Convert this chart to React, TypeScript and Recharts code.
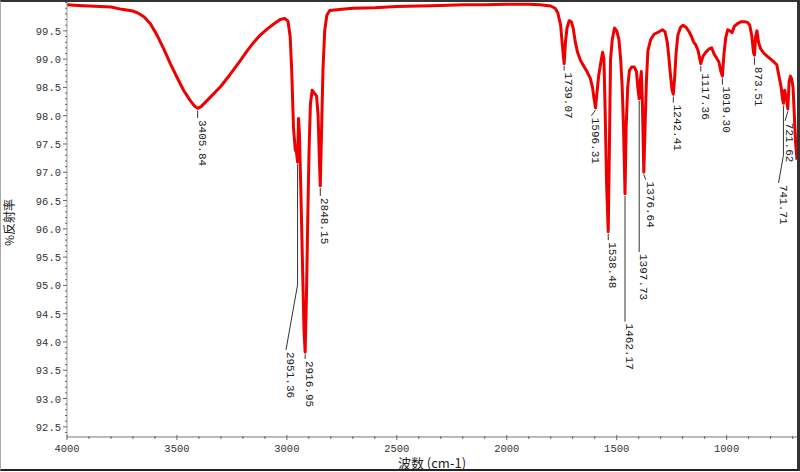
import React from 'react';
import { LineChart, Line, XAxis, YAxis, ReferenceLine, ReferenceDot } from 'recharts';

// wavenumber (cm-1), descending
const waveNumbers = [
  4000, 3950, 3900, 3850, 3800, 3750, 3700, 3680, 3650, 3620, 3590, 3560, 3530, 3500, 3470, 3440, 3420,
  3405.84, 3390, 3370, 3340, 3300, 3260, 3220, 3180, 3150, 3120, 3090, 3060, 3030, 3010, 2995, 2985,
  2978, 2970, 2962, 2956, 2951.36, 2947, 2943, 2936, 2928, 2922, 2916.95, 2911, 2905, 2899, 2893, 2885,
  2875, 2865, 2858, 2852, 2848.15, 2843, 2836, 2828, 2818, 2805, 2750, 2700, 2600, 2500, 2400, 2300,
  2200, 2100, 2000, 1900, 1850, 1800, 1780, 1768, 1755, 1746, 1739.07, 1733, 1726, 1716, 1706, 1698,
  1688, 1678, 1665, 1650, 1635, 1620, 1610, 1603, 1596.31, 1590, 1582, 1572, 1564, 1558, 1552, 1546,
  1538.48, 1533, 1528, 1520, 1510, 1500, 1490, 1482, 1475, 1469, 1462.17, 1457, 1450, 1442, 1432, 1420,
  1410, 1404, 1397.73, 1393, 1388, 1383, 1376.64, 1371, 1365, 1358, 1345, 1330, 1310, 1292, 1280, 1270,
  1262, 1255, 1248, 1242.41, 1236, 1230, 1222, 1210, 1198, 1186, 1170, 1160, 1150, 1140, 1130, 1117.36,
  1108, 1095, 1080, 1068, 1058, 1046, 1035, 1026, 1019.3, 1012, 1004, 995, 985, 975, 965, 950, 935, 918,
  905, 895, 885, 878, 873.51, 868, 862, 855, 845, 830, 815, 800, 785, 772, 762, 752, 746, 741.71, 736,
  728, 721.62, 716, 710, 704, 698, 692, 686, 680,
];

// %反射率
const reflectance = [
  99.96, 99.95, 99.94, 99.93, 99.92, 99.88, 99.85, 99.82, 99.75, 99.62, 99.42, 99.18, 98.92, 98.68, 98.45, 98.27, 98.17,
  98.13, 98.16, 98.24, 98.36, 98.52, 98.72, 98.93, 99.15, 99.3, 99.43, 99.53, 99.62, 99.7, 99.72, 99.67, 99.4,
  98.8, 97.8, 97.4, 97.35, 97.18, 97.95, 97.7, 96.6, 95.2, 94.2, 93.82, 94.8, 96.2, 97.4, 98.2, 98.45,
  98.4, 98.35, 98.0, 97.2, 96.76, 97.6, 98.8, 99.5, 99.78, 99.86, 99.88, 99.9, 99.91, 99.93, 99.94, 99.95,
  99.96, 99.96, 99.97, 99.97, 99.96, 99.94, 99.9, 99.82, 99.6, 99.2, 98.92, 99.3, 99.55, 99.68, 99.66, 99.55,
  99.3, 99.12, 98.98, 98.88, 98.78, 98.66, 98.5, 98.3, 98.14, 98.4, 98.7, 98.95, 99.12, 99.0, 98.0, 96.8,
  95.95, 97.5, 99.0, 99.35, 99.55, 99.5, 99.35, 99.0, 98.5, 97.8, 96.62, 97.8, 98.5, 98.8, 98.86, 98.86,
  98.78, 98.5, 98.3, 98.6, 98.78, 98.2, 97.0, 97.8, 98.6, 99.15, 99.35, 99.44, 99.48, 99.52, 99.48, 99.3,
  99.0, 98.7, 98.45, 98.38, 98.7, 99.1, 99.42, 99.56, 99.6, 99.57, 99.48, 99.4, 99.3, 99.25, 99.15, 98.92,
  99.05, 99.12, 99.18, 99.2, 99.1, 99.02, 98.95, 98.78, 98.7, 99.1, 99.38, 99.52, 99.5, 99.47, 99.58, 99.63, 99.66, 99.66,
  99.65, 99.6, 99.4, 99.12, 99.07, 99.4, 99.5, 99.3, 99.18, 99.1, 99.05, 99.0, 98.95, 98.9, 98.7, 98.5, 98.3, 98.22, 98.45,
  98.3, 98.12, 98.6, 98.7, 98.65, 98.5, 98.0, 97.5, 97.22,
];

const xMajorTicks = [4000, 3500, 3000, 2500, 2000, 1500, 1000];
const yMajorTicks = [92.5, 93.0, 93.5, 94.0, 94.5, 95.0, 95.5, 96.0, 96.5, 97.0, 97.5, 98.0, 98.5, 99.0, 99.5];

// peak annotations: leader from (peakWn, peakT) [via bendT] to (labelWn, labelT)
const peakLabels = ['3405.84', '2951.36', '2916.95', '2848.15', '1739.07', '1596.31', '1538.48', '1462.17',
  '1397.73', '1376.64', '1242.41', '1117.36', '1019.30', '873.51', '721.62', '741.71'];
const peakWn = [3405.84, 2951.36, 2916.95, 2848.15, 1739.07, 1596.31, 1538.48, 1462.17,
  1397.73, 1376.64, 1242.41, 1117.36, 1019.3, 873.51, 721.62, 741.71];
const peakT = [98.09, 97.14, 93.78, 96.72, 98.88, 98.1, 95.91, 96.58,
  98.26, 96.96, 98.34, 98.88, 98.66, 99.03, 98.08, 98.18];
const bendT: (number | null)[] = [null, 95.01, null, null, null, null, null, null,
  null, null, null, null, null, null, null, 97.3];
const labelWn = [3405.84, 3004, 2916.95, 2848.15, 1739.07, 1615, 1538.48, 1462.17,
  1397.73, 1368, 1242.41, 1117.36, 1019.3, 873.51, 734, 764];
const labelT = [97.96, 93.86, 93.7, 96.58, 98.8, 98.0, 95.8, 94.36,
  95.59, 96.87, 98.23, 98.78, 98.55, 98.9, 97.91, 96.81];

const data = waveNumbers.map((wn, i) => ({ wn, r: reflectance[i] }));

const xTicks: number[] = [];
for (let v = 4000; v >= 700; v -= 100) xTicks.push(v);
const yTicks: number[] = [];
for (let i = 924; i <= 1000; i++) yTicks.push(i / 10);

const MONO = '"Liberation Mono", "DejaVu Sans Mono", monospace';
const CJK = '"Noto Sans CJK SC", "Noto Sans", sans-serif';

const YTick = (props: any) => {
  const { x, y, payload } = props;
  const v = payload.value as number;
  const major = yMajorTicks.some((m) => Math.abs(m - v) < 1e-6);
  return (
    <g>
      <line x1={x - (major ? 4 : 2)} x2={x} y1={y} y2={y} stroke="#666" strokeWidth={1} />
      {major && (
        <text x={x - 6} y={y} dy={4} textAnchor="end" fontFamily={MONO} fontSize={10.5} fill="#333">
          {v.toFixed(1)}
        </text>
      )}
    </g>
  );
};

const XTick = (props: any) => {
  const { x, y, payload } = props;
  const v = payload.value as number;
  const major = xMajorTicks.includes(v);
  return (
    <g>
      <line x1={x} x2={x} y1={y - (major ? 2 : 1)} y2={y + (major ? 3 : 2)} stroke="#666" strokeWidth={1} />
      {major && (
        <text x={x} y={y + 15} textAnchor="middle" fontFamily={MONO} fontSize={10.5} fill="#333">
          {v}
        </text>
      )}
    </g>
  );
};

const xLabel = (props: any) => {
  const vb = props.viewBox;
  return (
    <text x={vb.x + vb.width / 2} y={vb.y + vb.height - 4} textAnchor="middle" fontFamily={CJK} fontSize={13} fill="#222">
      波数 (cm-1)
    </text>
  );
};

const yLabel = (props: any) => {
  const vb = props.viewBox;
  const cx = 8;
  const cy = vb.y + vb.height / 2 + 3;
  return (
    <text x={cx} y={cy} transform={`rotate(-90 ${cx} ${cy})`} textAnchor="middle" dominantBaseline="central"
      fontFamily={CJK} fontSize={12} fill="#222">
      %反射率
    </text>
  );
};

const peakText = (label: string) => (p: any) => (
  <text x={p.cx + 1} y={p.cy + 2} transform={`rotate(90 ${p.cx + 1} ${p.cy + 2})`}
    fontFamily={MONO} fontSize={11} fill="#222">
    {label}
  </text>
);

export default function App() {
  return (
    <div style={{ position: 'absolute', left: 0, top: 0, width: 800, height: 472, background: '#fff' }}>
      <LineChart width={800} height={472} data={data} margin={{ top: 2, right: 3, left: 0, bottom: 0 }}>
        <XAxis
          dataKey="wn"
          type="number"
          domain={[680, 4000]}
          reversed
          allowDataOverflow
          ticks={xTicks}
          interval={0}
          tick={<XTick />}
          tickLine={false}
          tickSize={0}
          tickMargin={0}
          height={35}
          axisLine={{ stroke: '#bbb', strokeWidth: 2 }}
          label={xLabel}
        />
        <YAxis
          type="number"
          domain={[92.32, 100.01]}
          allowDataOverflow
          ticks={yTicks}
          interval={0}
          tick={<YTick />}
          tickLine={false}
          tickSize={0}
          tickMargin={0}
          width={67}
          axisLine={{ stroke: '#999', strokeWidth: 1 }}
          label={yLabel}
        />
        <Line
          type="linear"
          dataKey="r"
          stroke="#ee0000"
          strokeWidth={3}
          strokeLinejoin="round"
          dot={false}
          isAnimationActive={false}
        />
        {peakLabels.map((lab, i) => {
          const b = bendT[i];
          const segs = b === null
            ? [[{ x: peakWn[i], y: peakT[i] }, { x: labelWn[i], y: labelT[i] }]]
            : [[{ x: peakWn[i], y: peakT[i] }, { x: peakWn[i], y: b }], [{ x: peakWn[i], y: b }, { x: labelWn[i], y: labelT[i] }]];
          return segs.map((s, j) => (
            <ReferenceLine key={`l${i}-${j}`} segment={s as any} stroke="#333" strokeWidth={1} />
          ));
        })}
        {peakLabels.map((lab, i) => (
          <ReferenceDot key={`t${i}`} x={labelWn[i]} y={labelT[i]} r={1} shape={peakText(lab)} />
        ))}
      </LineChart>
      <div style={{
        position: 'absolute', left: 0, top: 0, width: 800, height: 471, boxSizing: 'border-box',
        borderTop: '2px solid #333', borderRight: '3px solid #333', borderBottom: '2px solid #222',
        borderLeft: '1px solid #aaa', pointerEvents: 'none',
      }} />
    </div>
  );
}
